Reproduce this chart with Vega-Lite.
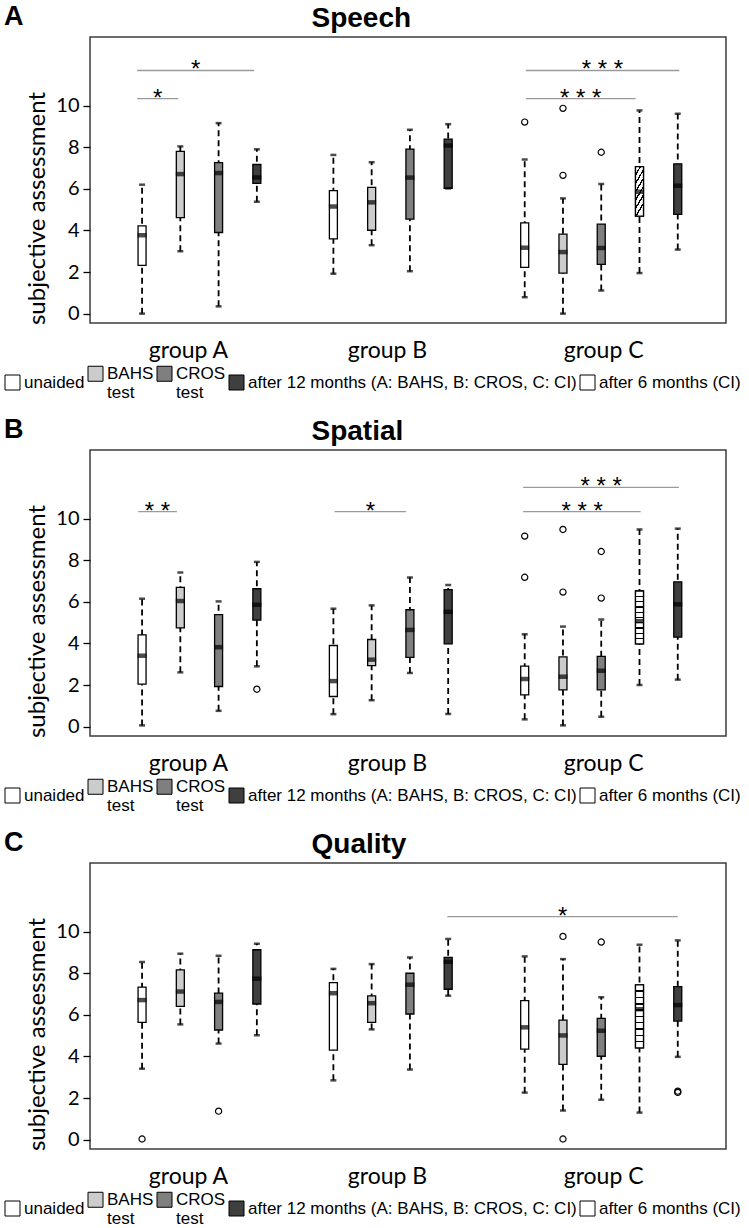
{
  "$schema": "https://vega.github.io/schema/vega-lite/v6.json",
  "background": "white",
  "padding": {"left": 3, "top": 2, "right": 0, "bottom": 0},
  "config": {
    "view": {"stroke": "#3c3c3c", "strokeWidth": 1.5},
    "axis": {"labelColor": "black", "titleColor": "black", "tickColor": "black", "grid": false},
    "title": {"font": "Liberation Sans", "fontSize": 27, "fontWeight": "bold", "color": "black"}
  },
  "datasets": {
    "boxA": [
      {"g": 1, "cat": "unaided", "lo": 0.0, "q1": 2.32, "med": 3.77, "q3": 4.22, "hi": 6.2},
      {"g": 2, "cat": "BAHS", "lo": 3.0, "q1": 4.62, "med": 6.71, "q3": 7.8, "hi": 8.04},
      {"g": 3, "cat": "CROS", "lo": 0.35, "q1": 3.9, "med": 6.76, "q3": 7.26, "hi": 9.16},
      {"g": 4, "cat": "12m", "lo": 5.38, "q1": 6.26, "med": 6.55, "q3": 7.17, "hi": 7.9},
      {"g": 6, "cat": "unaided", "lo": 1.92, "q1": 3.59, "med": 5.15, "q3": 5.91, "hi": 7.63},
      {"g": 7, "cat": "BAHS", "lo": 3.29, "q1": 4.01, "med": 5.35, "q3": 6.07, "hi": 7.28},
      {"g": 8, "cat": "CROS", "lo": 2.04, "q1": 4.54, "med": 6.54, "q3": 7.91, "hi": 8.84},
      {"g": 9, "cat": "12m", "lo": 6.02, "q1": 6.02, "med": 8.08, "q3": 8.39, "hi": 9.11},
      {"g": 11, "cat": "unaided", "lo": 0.79, "q1": 2.22, "med": 3.17, "q3": 4.36, "hi": 7.41},
      {"g": 12, "cat": "BAHS", "lo": 0.0, "q1": 1.95, "med": 2.96, "q3": 3.82, "hi": 5.54},
      {"g": 13, "cat": "CROS", "lo": 1.11, "q1": 2.37, "med": 3.16, "q3": 4.3, "hi": 6.23},
      {"g": 14, "cat": "6m", "lo": 1.95, "q1": 4.69, "med": 5.86, "q3": 7.07, "hi": 9.77},
      {"g": 15, "cat": "12m", "lo": 3.08, "q1": 4.77, "med": 6.15, "q3": 7.2, "hi": 9.61}
    ],
    "outA": [
      {"g": 11, "v": 9.21}, {"g": 12, "v": 9.87}, {"g": 12, "v": 6.65}, {"g": 13, "v": 7.76}
    ],
    "sigA": [
      {"x1": 0.87, "x2": 3.93, "xm": 2.4, "y": 11.69, "label": "*"},
      {"x1": 0.87, "x2": 1.95, "xm": 1.41, "y": 10.34, "label": "*"},
      {"x1": 11.03, "x2": 15.04, "xm": 13.03, "y": 11.69, "label": "* * *"},
      {"x1": 11.03, "x2": 13.9, "xm": 12.46, "y": 10.34, "label": "* * *"}
    ],
    "boxB": [
      {"g": 1, "cat": "unaided", "lo": 0.06, "q1": 2.04, "med": 3.41, "q3": 4.41, "hi": 6.15},
      {"g": 2, "cat": "BAHS", "lo": 2.61, "q1": 4.75, "med": 6.04, "q3": 6.7, "hi": 7.41},
      {"g": 3, "cat": "CROS", "lo": 0.76, "q1": 1.93, "med": 3.82, "q3": 5.39, "hi": 6.02},
      {"g": 4, "cat": "12m", "lo": 2.9, "q1": 5.12, "med": 5.86, "q3": 6.63, "hi": 7.92},
      {"g": 6, "cat": "unaided", "lo": 0.6, "q1": 1.45, "med": 2.19, "q3": 3.9, "hi": 5.67},
      {"g": 7, "cat": "BAHS", "lo": 1.27, "q1": 2.93, "med": 3.22, "q3": 4.19, "hi": 5.83},
      {"g": 8, "cat": "CROS", "lo": 2.58, "q1": 3.33, "med": 4.65, "q3": 5.62, "hi": 7.17},
      {"g": 9, "cat": "12m", "lo": 0.61, "q1": 3.98, "med": 5.52, "q3": 6.59, "hi": 6.81},
      {"g": 11, "cat": "unaided", "lo": 0.35, "q1": 1.53, "med": 2.29, "q3": 2.91, "hi": 4.44},
      {"g": 12, "cat": "BAHS", "lo": 0.06, "q1": 1.77, "med": 2.4, "q3": 3.35, "hi": 4.81},
      {"g": 13, "cat": "CROS", "lo": 0.47, "q1": 1.77, "med": 2.69, "q3": 3.38, "hi": 5.15},
      {"g": 14, "cat": "6m", "lo": 2.0, "q1": 3.98, "med": 5.07, "q3": 6.52, "hi": 9.48},
      {"g": 15, "cat": "12m", "lo": 2.26, "q1": 4.3, "med": 5.88, "q3": 6.96, "hi": 9.52}
    ],
    "outB": [
      {"g": 4, "v": 1.8}, {"g": 11, "v": 9.16}, {"g": 11, "v": 7.18}, {"g": 12, "v": 9.48},
      {"g": 12, "v": 6.47}, {"g": 13, "v": 8.42}, {"g": 13, "v": 6.18}
    ],
    "sigB": [
      {"x1": 0.9, "x2": 1.91, "xm": 1.4, "y": 10.34, "label": "* *"},
      {"x1": 6.03, "x2": 7.9, "xm": 6.97, "y": 10.34, "label": "*"},
      {"x1": 10.96, "x2": 15.03, "xm": 13.0, "y": 11.5, "label": "* * *"},
      {"x1": 10.96, "x2": 14.03, "xm": 12.5, "y": 10.34, "label": "* * *"}
    ],
    "boxC": [
      {"g": 1, "cat": "unaided", "lo": 3.41, "q1": 5.64, "med": 6.71, "q3": 7.33, "hi": 8.54},
      {"g": 2, "cat": "BAHS", "lo": 5.54, "q1": 6.41, "med": 7.12, "q3": 8.16, "hi": 8.94},
      {"g": 3, "cat": "CROS", "lo": 4.62, "q1": 5.27, "med": 6.62, "q3": 7.04, "hi": 8.84},
      {"g": 4, "cat": "12m", "lo": 5.02, "q1": 6.52, "med": 7.74, "q3": 9.13, "hi": 9.42},
      {"g": 6, "cat": "unaided", "lo": 2.85, "q1": 4.3, "med": 7.04, "q3": 7.55, "hi": 8.21},
      {"g": 7, "cat": "BAHS", "lo": 5.3, "q1": 5.64, "med": 6.56, "q3": 6.91, "hi": 8.44},
      {"g": 8, "cat": "CROS", "lo": 3.37, "q1": 6.04, "med": 7.45, "q3": 8.0, "hi": 8.76},
      {"g": 9, "cat": "12m", "lo": 6.92, "q1": 7.23, "med": 8.55, "q3": 8.76, "hi": 9.65},
      {"g": 11, "cat": "unaided", "lo": 2.26, "q1": 4.35, "med": 5.4, "q3": 6.68, "hi": 8.81},
      {"g": 12, "cat": "BAHS", "lo": 1.4, "q1": 3.62, "med": 5.01, "q3": 5.75, "hi": 8.68},
      {"g": 13, "cat": "CROS", "lo": 1.92, "q1": 4.01, "med": 5.23, "q3": 5.83, "hi": 6.85},
      {"g": 14, "cat": "6m", "lo": 1.3, "q1": 4.41, "med": 6.27, "q3": 7.44, "hi": 9.37},
      {"g": 15, "cat": "12m", "lo": 3.98, "q1": 5.7, "med": 6.47, "q3": 7.36, "hi": 9.58}
    ],
    "outC": [
      {"g": 1, "v": 0.03}, {"g": 3, "v": 1.37}, {"g": 12, "v": 9.77}, {"g": 12, "v": 0.03},
      {"g": 13, "v": 9.5}, {"g": 15, "v": 2.33}, {"g": 15, "v": 2.27}
    ],
    "sigC": [
      {"x1": 8.98, "x2": 15.0, "xm": 11.99, "y": 10.72, "label": "*"}
    ]
  },
  "resolve": {"scale": {"fill": "independent"}, "legend": {"fill": "independent"}},
  "spacing": 13,
  "vconcat": [
    {
      "title": {"text": "A", "anchor": "start", "frame": "bounds", "baseline": "alphabetic", "offset": -48},
      "width": 636, "height": 286,
      "resolve": {"axis": {"x": "independent"}},
      "layer": [
        {
          "data": {"name": "boxA"},
          "mark": {"type": "rule", "strokeDash": [6, 4], "strokeWidth": 1.8, "color": "black"},
          "encoding": {
            "x": {"field": "g", "type": "quantitative", "scale": {"domain": [-0.23, 16.13], "nice": false, "zero": false}, "axis": null},
            "y": {"field": "lo", "type": "quantitative", "scale": {"domain": [-0.45, 13.3], "nice": false, "zero": false},
              "axis": {"values": [0, 2, 4, 6, 8, 10], "domain": false, "tickSize": 7, "tickWidth": 1.3, "labelFont": "Lato", "labelFontSize": 20, "labelPadding": 4, "title": "subjective assessment", "titleFont": "Lato", "titleFontSize": 24, "titleFontWeight": "normal", "titlePadding": 6, "titleY": 171}},
            "y2": {"field": "hi"}
          }
        },
        {
          "data": {"name": "boxA"},
          "mark": {"type": "bar", "width": 8, "stroke": "black", "strokeWidth": 1.3},
          "encoding": {
            "x": {"field": "g", "type": "quantitative", "scale": {"domain": [-0.23, 16.13], "nice": false, "zero": false},
              "axis": {"orient": "bottom", "values": [2.2, 7.4, 13.05], "labelExpr": "datum.value < 5 ? 'group A' : datum.value < 10 ? 'group B' : 'group C'", "ticks": false, "tickSize": 0, "domain": false, "title": null, "labelFont": "Lato", "labelFontSize": 23, "labelPadding": 16}},
            "y": {"field": "q1", "type": "quantitative", "scale": {"domain": [-0.45, 13.3], "nice": false, "zero": false},
              "axis": {"values": [0, 2, 4, 6, 8, 10], "domain": false, "tickSize": 7, "tickWidth": 1.3, "labelFont": "Lato", "labelFontSize": 20, "labelPadding": 4, "title": "subjective assessment", "titleFont": "Lato", "titleFontSize": 24, "titleFontWeight": "normal", "titlePadding": 6, "titleY": 171}},
            "y2": {"field": "q3"},
            "fill": {"field": "cat", "type": "nominal",
              "scale": {"domain": ["unaided", "BAHS", "CROS", "12m", "6m"], "range": ["#ffffff", "#cccccc", "#7f7f7f", "#3f3f3f", "#ffffff"]},
              "legend": {"orient": "none", "legendX": -86, "legendY": 328, "direction": "horizontal", "columns": 5, "title": null,
                "symbolType": "square", "symbolSize": 225, "symbolStrokeColor": "black", "symbolStrokeWidth": 1, "symbolOpacity": 1,
                "labelFont": "Liberation Sans", "labelFontSize": 17, "labelColor": "black", "labelOffset": 3, "columnPadding": 1, "labelLimit": 500, "labelBaseline": "middle",
                "labelExpr": "datum.value == 'BAHS' ? ['BAHS', 'test'] : datum.value == 'CROS' ? ['CROS', 'test'] : datum.value == '12m' ? 'after 12 months (A: BAHS, B: CROS, C: CI)' : datum.value == '6m' ? 'after 6 months (CI)' : datum.label",
                "encoding": {"symbols": {"fill": {"condition": {"test": "datum.value === '6m'", "value": {"gradient": "linear", "x1": 0, "y1": 0, "x2": 0, "y2": 1, "stops": [
                  {"offset": 0, "color": "white"}, {"offset": 0.2, "color": "white"}, {"offset": 0.2, "color": "black"}, {"offset": 0.26, "color": "black"}, {"offset": 0.26, "color": "white"},
                  {"offset": 0.45, "color": "white"}, {"offset": 0.45, "color": "black"}, {"offset": 0.51, "color": "black"}, {"offset": 0.51, "color": "white"},
                  {"offset": 0.7, "color": "white"}, {"offset": 0.7, "color": "black"}, {"offset": 0.76, "color": "black"}, {"offset": 0.76, "color": "white"},
                  {"offset": 1, "color": "white"}]}},
                  "value": {"expr": "datum.value === 'BAHS' ? '#cccccc' : datum.value === 'CROS' ? '#7f7f7f' : datum.value === '12m' ? '#3f3f3f' : '#ffffff'"}},
                  "stroke": {"value": "black"}, "strokeWidth": {"value": 1}}}}}
          }
        },
        {
          "data": {"name": "boxA"},
          "transform": [{"filter": "datum.cat == '6m'"}],
          "mark": {"type": "bar", "width": 8, "stroke": "black", "strokeWidth": 1.3,
            "fill": {"gradient": "linear", "x1": 0, "y1": 0, "x2": 0.3, "y2": 1.1, "stops": [
              {"offset": 0, "color": "white"}, {"offset": 0.121, "color": "white"}, {"offset": 0.121, "color": "black"}, {"offset": 0.165, "color": "black"}, {"offset": 0.165, "color": "white"},
              {"offset": 0.264, "color": "white"}, {"offset": 0.264, "color": "black"}, {"offset": 0.308, "color": "black"}, {"offset": 0.308, "color": "white"},
              {"offset": 0.407, "color": "white"}, {"offset": 0.407, "color": "black"}, {"offset": 0.451, "color": "black"}, {"offset": 0.451, "color": "white"},
              {"offset": 0.549, "color": "white"}, {"offset": 0.549, "color": "black"}, {"offset": 0.593, "color": "black"}, {"offset": 0.593, "color": "white"},
              {"offset": 0.692, "color": "white"}, {"offset": 0.692, "color": "black"}, {"offset": 0.736, "color": "black"}, {"offset": 0.736, "color": "white"},
              {"offset": 0.835, "color": "white"}, {"offset": 0.835, "color": "black"}, {"offset": 0.879, "color": "black"}, {"offset": 0.879, "color": "white"},
              {"offset": 1, "color": "white"}]}},
          "encoding": {
            "x": {"field": "g", "type": "quantitative", "scale": {"domain": [-0.23, 16.13], "nice": false, "zero": false}, "axis": null},
            "y": {"field": "q1", "type": "quantitative", "scale": {"domain": [-0.45, 13.3], "nice": false, "zero": false}},
            "y2": {"field": "q3"}
          }
        },
        {
          "data": {"name": "boxA"},
          "mark": {"type": "tick", "orient": "horizontal", "size": 9, "thickness": 4.5, "color": "black"},
          "encoding": {
            "x": {"field": "g", "type": "quantitative", "scale": {"domain": [-0.23, 16.13], "nice": false, "zero": false}, "axis": null},
            "y": {"field": "med", "type": "quantitative", "scale": {"domain": [-0.45, 13.3], "nice": false, "zero": false}}
          }
        },
        {
          "data": {"name": "boxA"},
          "mark": {"type": "tick", "orient": "horizontal", "size": 6, "thickness": 2.5, "color": "black"},
          "encoding": {
            "x": {"field": "g", "type": "quantitative", "scale": {"domain": [-0.23, 16.13], "nice": false, "zero": false}, "axis": null},
            "y": {"field": "hi", "type": "quantitative", "scale": {"domain": [-0.45, 13.3], "nice": false, "zero": false}}
          }
        },
        {
          "data": {"name": "boxA"},
          "mark": {"type": "tick", "orient": "horizontal", "size": 6, "thickness": 2.5, "color": "black"},
          "encoding": {
            "x": {"field": "g", "type": "quantitative", "scale": {"domain": [-0.23, 16.13], "nice": false, "zero": false}, "axis": null},
            "y": {"field": "lo", "type": "quantitative", "scale": {"domain": [-0.45, 13.3], "nice": false, "zero": false}}
          }
        },
        {
          "data": {"name": "outA"},
          "mark": {"type": "point", "shape": "circle", "filled": false, "size": 38, "stroke": "black", "strokeWidth": 1.2, "opacity": 1},
          "encoding": {
            "x": {"field": "g", "type": "quantitative", "scale": {"domain": [-0.23, 16.13], "nice": false, "zero": false}, "axis": null},
            "y": {"field": "v", "type": "quantitative", "scale": {"domain": [-0.45, 13.3], "nice": false, "zero": false}}
          }
        },
        {
          "data": {"name": "sigA"},
          "mark": {"type": "rule", "color": "#9a9a9a", "strokeWidth": 1.3},
          "encoding": {
            "x": {"field": "x1", "type": "quantitative", "scale": {"domain": [-0.23, 16.13], "nice": false, "zero": false},
              "axis": {"orient": "top", "labels": false, "ticks": false, "domain": false, "title": "Speech", "titleFont": "Liberation Sans", "titleFontSize": 28, "titleFontWeight": "bold", "titleX": 221, "titleY": -11, "titleAlign": "left", "titleBaseline": "alphabetic"}},
            "x2": {"field": "x2"},
            "y": {"field": "y", "type": "quantitative", "scale": {"domain": [-0.45, 13.3], "nice": false, "zero": false}}
          }
        },
        {
          "data": {"name": "sigA"},
          "mark": {"type": "text", "font": "Liberation Sans", "fontSize": 24, "dy": 7, "baseline": "alphabetic", "color": "black"},
          "encoding": {
            "x": {"field": "xm", "type": "quantitative", "scale": {"domain": [-0.23, 16.13], "nice": false, "zero": false}, "axis": null},
            "y": {"field": "y", "type": "quantitative", "scale": {"domain": [-0.45, 13.3], "nice": false, "zero": false}},
            "text": {"field": "label"}
          }
        }
      ]
    },
    {
      "title": {"text": "B", "anchor": "start", "frame": "bounds", "baseline": "alphabetic", "offset": -48},
      "width": 636, "height": 286,
      "resolve": {"axis": {"x": "independent"}},
      "layer": [
        {
          "data": {"name": "boxB"},
          "mark": {"type": "rule", "strokeDash": [6, 4], "strokeWidth": 1.8, "color": "black"},
          "encoding": {
            "x": {"field": "g", "type": "quantitative", "scale": {"domain": [-0.23, 16.13], "nice": false, "zero": false}, "axis": null},
            "y": {"field": "lo", "type": "quantitative", "scale": {"domain": [-0.45, 13.3], "nice": false, "zero": false},
              "axis": {"values": [0, 2, 4, 6, 8, 10], "domain": false, "tickSize": 7, "tickWidth": 1.3, "labelFont": "Lato", "labelFontSize": 20, "labelPadding": 4, "title": "subjective assessment", "titleFont": "Lato", "titleFontSize": 24, "titleFontWeight": "normal", "titlePadding": 6, "titleY": 171}},
            "y2": {"field": "hi"}
          }
        },
        {
          "data": {"name": "boxB"},
          "mark": {"type": "bar", "width": 8, "stroke": "black", "strokeWidth": 1.3},
          "encoding": {
            "x": {"field": "g", "type": "quantitative", "scale": {"domain": [-0.23, 16.13], "nice": false, "zero": false},
              "axis": {"orient": "bottom", "values": [2.2, 7.4, 13.05], "labelExpr": "datum.value < 5 ? 'group A' : datum.value < 10 ? 'group B' : 'group C'", "ticks": false, "tickSize": 0, "domain": false, "title": null, "labelFont": "Lato", "labelFontSize": 23, "labelPadding": 16}},
            "y": {"field": "q1", "type": "quantitative", "scale": {"domain": [-0.45, 13.3], "nice": false, "zero": false},
              "axis": {"values": [0, 2, 4, 6, 8, 10], "domain": false, "tickSize": 7, "tickWidth": 1.3, "labelFont": "Lato", "labelFontSize": 20, "labelPadding": 4, "title": "subjective assessment", "titleFont": "Lato", "titleFontSize": 24, "titleFontWeight": "normal", "titlePadding": 6, "titleY": 171}},
            "y2": {"field": "q3"},
            "fill": {"field": "cat", "type": "nominal",
              "scale": {"domain": ["unaided", "BAHS", "CROS", "12m", "6m"], "range": ["#ffffff", "#cccccc", "#7f7f7f", "#3f3f3f", "#ffffff"]},
              "legend": {"orient": "none", "legendX": -86, "legendY": 328, "direction": "horizontal", "columns": 5, "title": null,
                "symbolType": "square", "symbolSize": 225, "symbolStrokeColor": "black", "symbolStrokeWidth": 1, "symbolOpacity": 1,
                "labelFont": "Liberation Sans", "labelFontSize": 17, "labelColor": "black", "labelOffset": 3, "columnPadding": 1, "labelLimit": 500, "labelBaseline": "middle",
                "labelExpr": "datum.value == 'BAHS' ? ['BAHS', 'test'] : datum.value == 'CROS' ? ['CROS', 'test'] : datum.value == '12m' ? 'after 12 months (A: BAHS, B: CROS, C: CI)' : datum.value == '6m' ? 'after 6 months (CI)' : datum.label",
                "encoding": {"symbols": {"fill": {"condition": {"test": "datum.value === '6m'", "value": {"gradient": "linear", "x1": 0, "y1": 0, "x2": 0, "y2": 1, "stops": [
                  {"offset": 0, "color": "white"}, {"offset": 0.2, "color": "white"}, {"offset": 0.2, "color": "black"}, {"offset": 0.26, "color": "black"}, {"offset": 0.26, "color": "white"},
                  {"offset": 0.45, "color": "white"}, {"offset": 0.45, "color": "black"}, {"offset": 0.51, "color": "black"}, {"offset": 0.51, "color": "white"},
                  {"offset": 0.7, "color": "white"}, {"offset": 0.7, "color": "black"}, {"offset": 0.76, "color": "black"}, {"offset": 0.76, "color": "white"},
                  {"offset": 1, "color": "white"}]}},
                  "value": {"expr": "datum.value === 'BAHS' ? '#cccccc' : datum.value === 'CROS' ? '#7f7f7f' : datum.value === '12m' ? '#3f3f3f' : '#ffffff'"}},
                  "stroke": {"value": "black"}, "strokeWidth": {"value": 1}}}}}
          }
        },
        {
          "data": {"name": "boxB"},
          "transform": [{"filter": "datum.cat == '6m'"}],
          "mark": {"type": "bar", "width": 8, "stroke": "black", "strokeWidth": 1.3,
            "fill": {"gradient": "linear", "x1": 0, "y1": 0, "x2": 0, "y2": 1, "stops": [
              {"offset": 0, "color": "white"}, {"offset": 0.088, "color": "white"}, {"offset": 0.088, "color": "black"}, {"offset": 0.112, "color": "black"}, {"offset": 0.112, "color": "white"},
              {"offset": 0.188, "color": "white"}, {"offset": 0.188, "color": "black"}, {"offset": 0.212, "color": "black"}, {"offset": 0.212, "color": "white"},
              {"offset": 0.288, "color": "white"}, {"offset": 0.288, "color": "black"}, {"offset": 0.312, "color": "black"}, {"offset": 0.312, "color": "white"},
              {"offset": 0.388, "color": "white"}, {"offset": 0.388, "color": "black"}, {"offset": 0.412, "color": "black"}, {"offset": 0.412, "color": "white"},
              {"offset": 0.488, "color": "white"}, {"offset": 0.488, "color": "black"}, {"offset": 0.512, "color": "black"}, {"offset": 0.512, "color": "white"},
              {"offset": 0.588, "color": "white"}, {"offset": 0.588, "color": "black"}, {"offset": 0.612, "color": "black"}, {"offset": 0.612, "color": "white"},
              {"offset": 0.688, "color": "white"}, {"offset": 0.688, "color": "black"}, {"offset": 0.712, "color": "black"}, {"offset": 0.712, "color": "white"},
              {"offset": 0.788, "color": "white"}, {"offset": 0.788, "color": "black"}, {"offset": 0.812, "color": "black"}, {"offset": 0.812, "color": "white"},
              {"offset": 0.888, "color": "white"}, {"offset": 0.888, "color": "black"}, {"offset": 0.912, "color": "black"}, {"offset": 0.912, "color": "white"},
              {"offset": 1, "color": "white"}]}},
          "encoding": {
            "x": {"field": "g", "type": "quantitative", "scale": {"domain": [-0.23, 16.13], "nice": false, "zero": false}, "axis": null},
            "y": {"field": "q1", "type": "quantitative", "scale": {"domain": [-0.45, 13.3], "nice": false, "zero": false}},
            "y2": {"field": "q3"}
          }
        },
        {
          "data": {"name": "boxB"},
          "mark": {"type": "tick", "orient": "horizontal", "size": 9, "thickness": 4.5, "color": "black"},
          "encoding": {
            "x": {"field": "g", "type": "quantitative", "scale": {"domain": [-0.23, 16.13], "nice": false, "zero": false}, "axis": null},
            "y": {"field": "med", "type": "quantitative", "scale": {"domain": [-0.45, 13.3], "nice": false, "zero": false}}
          }
        },
        {
          "data": {"name": "boxB"},
          "mark": {"type": "tick", "orient": "horizontal", "size": 6, "thickness": 2.5, "color": "black"},
          "encoding": {
            "x": {"field": "g", "type": "quantitative", "scale": {"domain": [-0.23, 16.13], "nice": false, "zero": false}, "axis": null},
            "y": {"field": "hi", "type": "quantitative", "scale": {"domain": [-0.45, 13.3], "nice": false, "zero": false}}
          }
        },
        {
          "data": {"name": "boxB"},
          "mark": {"type": "tick", "orient": "horizontal", "size": 6, "thickness": 2.5, "color": "black"},
          "encoding": {
            "x": {"field": "g", "type": "quantitative", "scale": {"domain": [-0.23, 16.13], "nice": false, "zero": false}, "axis": null},
            "y": {"field": "lo", "type": "quantitative", "scale": {"domain": [-0.45, 13.3], "nice": false, "zero": false}}
          }
        },
        {
          "data": {"name": "outB"},
          "mark": {"type": "point", "shape": "circle", "filled": false, "size": 38, "stroke": "black", "strokeWidth": 1.2, "opacity": 1},
          "encoding": {
            "x": {"field": "g", "type": "quantitative", "scale": {"domain": [-0.23, 16.13], "nice": false, "zero": false}, "axis": null},
            "y": {"field": "v", "type": "quantitative", "scale": {"domain": [-0.45, 13.3], "nice": false, "zero": false}}
          }
        },
        {
          "data": {"name": "sigB"},
          "mark": {"type": "rule", "color": "#9a9a9a", "strokeWidth": 1.3},
          "encoding": {
            "x": {"field": "x1", "type": "quantitative", "scale": {"domain": [-0.23, 16.13], "nice": false, "zero": false},
              "axis": {"orient": "top", "labels": false, "ticks": false, "domain": false, "title": "Spatial", "titleFont": "Liberation Sans", "titleFontSize": 28, "titleFontWeight": "bold", "titleX": 221, "titleY": -11, "titleAlign": "left", "titleBaseline": "alphabetic"}},
            "x2": {"field": "x2"},
            "y": {"field": "y", "type": "quantitative", "scale": {"domain": [-0.45, 13.3], "nice": false, "zero": false}}
          }
        },
        {
          "data": {"name": "sigB"},
          "mark": {"type": "text", "font": "Liberation Sans", "fontSize": 24, "dy": 7, "baseline": "alphabetic", "color": "black"},
          "encoding": {
            "x": {"field": "xm", "type": "quantitative", "scale": {"domain": [-0.23, 16.13], "nice": false, "zero": false}, "axis": null},
            "y": {"field": "y", "type": "quantitative", "scale": {"domain": [-0.45, 13.3], "nice": false, "zero": false}},
            "text": {"field": "label"}
          }
        }
      ]
    },
    {
      "title": {"text": "C", "anchor": "start", "frame": "bounds", "baseline": "alphabetic", "offset": -48},
      "width": 636, "height": 286,
      "resolve": {"axis": {"x": "independent"}},
      "layer": [
        {
          "data": {"name": "boxC"},
          "mark": {"type": "rule", "strokeDash": [6, 4], "strokeWidth": 1.8, "color": "black"},
          "encoding": {
            "x": {"field": "g", "type": "quantitative", "scale": {"domain": [-0.23, 16.13], "nice": false, "zero": false}, "axis": null},
            "y": {"field": "lo", "type": "quantitative", "scale": {"domain": [-0.45, 13.3], "nice": false, "zero": false},
              "axis": {"values": [0, 2, 4, 6, 8, 10], "domain": false, "tickSize": 7, "tickWidth": 1.3, "labelFont": "Lato", "labelFontSize": 20, "labelPadding": 4, "title": "subjective assessment", "titleFont": "Lato", "titleFontSize": 24, "titleFontWeight": "normal", "titlePadding": 6, "titleY": 171}},
            "y2": {"field": "hi"}
          }
        },
        {
          "data": {"name": "boxC"},
          "mark": {"type": "bar", "width": 8, "stroke": "black", "strokeWidth": 1.3},
          "encoding": {
            "x": {"field": "g", "type": "quantitative", "scale": {"domain": [-0.23, 16.13], "nice": false, "zero": false},
              "axis": {"orient": "bottom", "values": [2.2, 7.4, 13.05], "labelExpr": "datum.value < 5 ? 'group A' : datum.value < 10 ? 'group B' : 'group C'", "ticks": false, "tickSize": 0, "domain": false, "title": null, "labelFont": "Lato", "labelFontSize": 23, "labelPadding": 16}},
            "y": {"field": "q1", "type": "quantitative", "scale": {"domain": [-0.45, 13.3], "nice": false, "zero": false},
              "axis": {"values": [0, 2, 4, 6, 8, 10], "domain": false, "tickSize": 7, "tickWidth": 1.3, "labelFont": "Lato", "labelFontSize": 20, "labelPadding": 4, "title": "subjective assessment", "titleFont": "Lato", "titleFontSize": 24, "titleFontWeight": "normal", "titlePadding": 6, "titleY": 171}},
            "y2": {"field": "q3"},
            "fill": {"field": "cat", "type": "nominal",
              "scale": {"domain": ["unaided", "BAHS", "CROS", "12m", "6m"], "range": ["#ffffff", "#cccccc", "#7f7f7f", "#3f3f3f", "#ffffff"]},
              "legend": {"orient": "none", "legendX": -86, "legendY": 328, "direction": "horizontal", "columns": 5, "title": null,
                "symbolType": "square", "symbolSize": 225, "symbolStrokeColor": "black", "symbolStrokeWidth": 1, "symbolOpacity": 1,
                "labelFont": "Liberation Sans", "labelFontSize": 17, "labelColor": "black", "labelOffset": 3, "columnPadding": 1, "labelLimit": 500, "labelBaseline": "middle",
                "labelExpr": "datum.value == 'BAHS' ? ['BAHS', 'test'] : datum.value == 'CROS' ? ['CROS', 'test'] : datum.value == '12m' ? 'after 12 months (A: BAHS, B: CROS, C: CI)' : datum.value == '6m' ? 'after 6 months (CI)' : datum.label",
                "encoding": {"symbols": {"fill": {"condition": {"test": "datum.value === '6m'", "value": {"gradient": "linear", "x1": 0, "y1": 0, "x2": 0, "y2": 1, "stops": [
                  {"offset": 0, "color": "white"}, {"offset": 0.2, "color": "white"}, {"offset": 0.2, "color": "black"}, {"offset": 0.26, "color": "black"}, {"offset": 0.26, "color": "white"},
                  {"offset": 0.45, "color": "white"}, {"offset": 0.45, "color": "black"}, {"offset": 0.51, "color": "black"}, {"offset": 0.51, "color": "white"},
                  {"offset": 0.7, "color": "white"}, {"offset": 0.7, "color": "black"}, {"offset": 0.76, "color": "black"}, {"offset": 0.76, "color": "white"},
                  {"offset": 1, "color": "white"}]}},
                  "value": {"expr": "datum.value === 'BAHS' ? '#cccccc' : datum.value === 'CROS' ? '#7f7f7f' : datum.value === '12m' ? '#3f3f3f' : '#ffffff'"}},
                  "stroke": {"value": "black"}, "strokeWidth": {"value": 1}}}}}
          }
        },
        {
          "data": {"name": "boxC"},
          "transform": [{"filter": "datum.cat == '6m'"}],
          "mark": {"type": "bar", "width": 8, "stroke": "black", "strokeWidth": 1.3,
            "fill": {"gradient": "linear", "x1": 0, "y1": 0, "x2": 0, "y2": 1, "stops": [
              {"offset": 0, "color": "white"}, {"offset": 0.088, "color": "white"}, {"offset": 0.088, "color": "black"}, {"offset": 0.112, "color": "black"}, {"offset": 0.112, "color": "white"},
              {"offset": 0.188, "color": "white"}, {"offset": 0.188, "color": "black"}, {"offset": 0.212, "color": "black"}, {"offset": 0.212, "color": "white"},
              {"offset": 0.288, "color": "white"}, {"offset": 0.288, "color": "black"}, {"offset": 0.312, "color": "black"}, {"offset": 0.312, "color": "white"},
              {"offset": 0.388, "color": "white"}, {"offset": 0.388, "color": "black"}, {"offset": 0.412, "color": "black"}, {"offset": 0.412, "color": "white"},
              {"offset": 0.488, "color": "white"}, {"offset": 0.488, "color": "black"}, {"offset": 0.512, "color": "black"}, {"offset": 0.512, "color": "white"},
              {"offset": 0.588, "color": "white"}, {"offset": 0.588, "color": "black"}, {"offset": 0.612, "color": "black"}, {"offset": 0.612, "color": "white"},
              {"offset": 0.688, "color": "white"}, {"offset": 0.688, "color": "black"}, {"offset": 0.712, "color": "black"}, {"offset": 0.712, "color": "white"},
              {"offset": 0.788, "color": "white"}, {"offset": 0.788, "color": "black"}, {"offset": 0.812, "color": "black"}, {"offset": 0.812, "color": "white"},
              {"offset": 0.888, "color": "white"}, {"offset": 0.888, "color": "black"}, {"offset": 0.912, "color": "black"}, {"offset": 0.912, "color": "white"},
              {"offset": 1, "color": "white"}]}},
          "encoding": {
            "x": {"field": "g", "type": "quantitative", "scale": {"domain": [-0.23, 16.13], "nice": false, "zero": false}, "axis": null},
            "y": {"field": "q1", "type": "quantitative", "scale": {"domain": [-0.45, 13.3], "nice": false, "zero": false}},
            "y2": {"field": "q3"}
          }
        },
        {
          "data": {"name": "boxC"},
          "mark": {"type": "tick", "orient": "horizontal", "size": 9, "thickness": 4.5, "color": "black"},
          "encoding": {
            "x": {"field": "g", "type": "quantitative", "scale": {"domain": [-0.23, 16.13], "nice": false, "zero": false}, "axis": null},
            "y": {"field": "med", "type": "quantitative", "scale": {"domain": [-0.45, 13.3], "nice": false, "zero": false}}
          }
        },
        {
          "data": {"name": "boxC"},
          "mark": {"type": "tick", "orient": "horizontal", "size": 6, "thickness": 2.5, "color": "black"},
          "encoding": {
            "x": {"field": "g", "type": "quantitative", "scale": {"domain": [-0.23, 16.13], "nice": false, "zero": false}, "axis": null},
            "y": {"field": "hi", "type": "quantitative", "scale": {"domain": [-0.45, 13.3], "nice": false, "zero": false}}
          }
        },
        {
          "data": {"name": "boxC"},
          "mark": {"type": "tick", "orient": "horizontal", "size": 6, "thickness": 2.5, "color": "black"},
          "encoding": {
            "x": {"field": "g", "type": "quantitative", "scale": {"domain": [-0.23, 16.13], "nice": false, "zero": false}, "axis": null},
            "y": {"field": "lo", "type": "quantitative", "scale": {"domain": [-0.45, 13.3], "nice": false, "zero": false}}
          }
        },
        {
          "data": {"name": "outC"},
          "mark": {"type": "point", "shape": "circle", "filled": false, "size": 38, "stroke": "black", "strokeWidth": 1.2, "opacity": 1},
          "encoding": {
            "x": {"field": "g", "type": "quantitative", "scale": {"domain": [-0.23, 16.13], "nice": false, "zero": false}, "axis": null},
            "y": {"field": "v", "type": "quantitative", "scale": {"domain": [-0.45, 13.3], "nice": false, "zero": false}}
          }
        },
        {
          "data": {"name": "sigC"},
          "mark": {"type": "rule", "color": "#9a9a9a", "strokeWidth": 1.3},
          "encoding": {
            "x": {"field": "x1", "type": "quantitative", "scale": {"domain": [-0.23, 16.13], "nice": false, "zero": false},
              "axis": {"orient": "top", "labels": false, "ticks": false, "domain": false, "title": "Quality", "titleFont": "Liberation Sans", "titleFontSize": 28, "titleFontWeight": "bold", "titleX": 221, "titleY": -11, "titleAlign": "left", "titleBaseline": "alphabetic"}},
            "x2": {"field": "x2"},
            "y": {"field": "y", "type": "quantitative", "scale": {"domain": [-0.45, 13.3], "nice": false, "zero": false}}
          }
        },
        {
          "data": {"name": "sigC"},
          "mark": {"type": "text", "font": "Liberation Sans", "fontSize": 24, "dy": 7, "baseline": "alphabetic", "color": "black"},
          "encoding": {
            "x": {"field": "xm", "type": "quantitative", "scale": {"domain": [-0.23, 16.13], "nice": false, "zero": false}, "axis": null},
            "y": {"field": "y", "type": "quantitative", "scale": {"domain": [-0.45, 13.3], "nice": false, "zero": false}},
            "text": {"field": "label"}
          }
        }
      ]
    }
  ]
}
